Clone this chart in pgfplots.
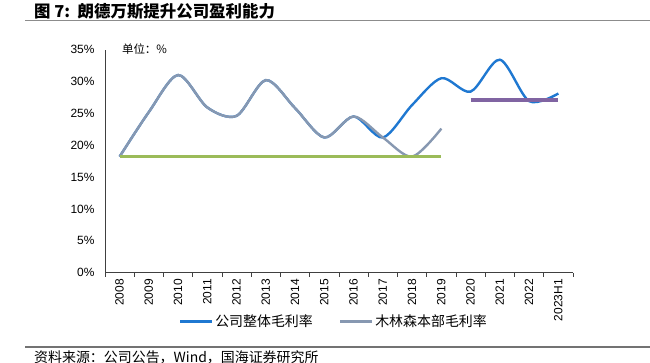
\documentclass[border=0pt]{standalone}
\usepackage{pgfplots}
\pgfplotsset{compat=1.18}
\usepackage{fontspec}
\setmainfont{Liberation Sans}
\newfontfamily\cjk{Noto Sans CJK SC}
\definecolor{cblue}{RGB}{31,120,209}
\definecolor{cgray}{RGB}{135,152,177}
\definecolor{cgreen}{RGB}{155,187,89}
\definecolor{cpurple}{RGB}{128,100,162}
\begin{document}
\begin{tikzpicture}
\useasboundingbox (0bp,0bp) rectangle (650bp,363bp);
\node[anchor=west,inner sep=0pt,font=\cjk\bfseries\fontsize{16.5}{19}\selectfont] at (34bp,352bp) {图 7:\ \ 朗德万斯提升公司盈利能力};
\draw[line width=1.5bp, black!45] (25bp,342.5bp) -- (650bp,342.5bp);
\begin{axis}[
  at={(105bp,90.3bp)}, anchor=south west,
  scale only axis, width=468bp, height=223.2bp,
  xmin=-0.5, xmax=15.5, ymin=0, ymax=35,
  axis x line=bottom, axis y line=left,
  axis line style={-, line width=0.8bp, black!75},
  tick align=outside,
  xtick={0,...,15},
  xticklabels={2008,2009,2010,2011,2012,2013,2014,2015,2016,2017,2018,2019,2020,2021,2022,2023H1},
  major x tick style={draw=none},
  minor xtick={-0.5,0.5,...,15.5},
  minor tick length=4bp,
  minor x tick style={black!75, line width=0.6bp},
  major tick length=0pt,
  xticklabel style={rotate=90, anchor=east, font=\fontsize{12}{14}\selectfont},
  xticklabel shift=3bp,
  ytick={0,5,...,35},
  yticklabel={\pgfmathprintnumber{\tick}\%},
  yticklabel style={font=\fontsize{12}{14}\selectfont},
  yticklabel shift=7bp,
  y tick style={draw=none},
  /pgf/number format/assume math mode=true,
  legend style={at={(0.489,-0.2195)}, anchor=center, draw=none, fill=none,
    legend columns=2, font=\cjk\fontsize{14}{16}\selectfont,
    /tikz/every even column/.append style={column sep=24bp},
    inner sep=0pt},
  legend image code/.code={\draw[#1] (0bp,0bp) -- (32bp,0bp);},
  clip=false,
]
\addplot[cblue, line width=2.4bp, smooth] coordinates {
 (0,18.2) (1,25.2) (2,31.0) (3,25.9) (4,24.6) (5,30.2) (6,25.8) (7,21.2) (8,24.5)
 (9,21.2) (10,26.3) (11,30.5) (12,28.4) (13,33.4) (14,26.9) (15,28.1)};
\addlegendentry{公司整体毛利率}
\addplot[cgray, line width=2.4bp, smooth] coordinates {
 (0,18.2) (1,25.2) (2,31.0) (3,25.9) (4,24.6) (5,30.2) (6,25.8) (7,21.2) (8,24.5)
 (9,21.2) (10,18.2) (11,22.6)};
\addlegendentry{木林森本部毛利率}
\addplot[cgreen, line width=3.6bp, forget plot] coordinates {(0,18.2) (11,18.2)};
\addplot[cpurple, line width=3.6bp, forget plot] coordinates {(12,27.1) (15,27.1)};
\node[anchor=west, inner sep=0pt, font=\cjk\fontsize{11.5}{13}\selectfont] at (rel axis cs:0.036,1.0) {单位：\%};
\end{axis}
\draw[line width=1.2bp, black!55] (25bp,16bp) -- (650bp,16bp);
\node[anchor=base west, inner sep=0pt, font=\cjk\fontsize{14}{16}\selectfont] at (34bp,0.5bp) {资料来源：公司公告，Wind，国海证券研究所};
\end{tikzpicture}
\end{document}
